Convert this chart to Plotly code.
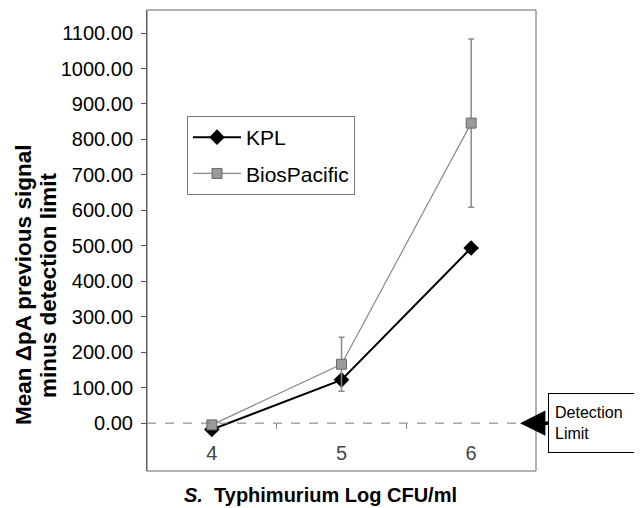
import plotly.graph_objects as go

# Data
x_cats = [4, 5, 6]
kpl = [-18, 122, 494]
bios = [-5, 166, 846]
bios_err = [6, 76, 237]
y_ticks = [-100, 0, 100, 200, 300, 400, 500, 600, 700, 800, 900, 1000, 1100]

FONT = "Liberation Sans, Arial, sans-serif"
OFF = 8  # page body margin offset

# plot area target (screen px)
PL, PR, PT, PB = 147, 536, 10, 471
PW, PH = PR - PL, PB - PT

fig = go.Figure()
fig.add_trace(go.Scatter(
    x=x_cats, y=kpl, name="KPL", mode="lines+markers", legendgroup="a",
    line=dict(color="black", width=2),
    marker=dict(symbol="diamond", size=12, color="black"),
))
fig.add_trace(go.Scatter(
    x=x_cats, y=bios, name="BiosPacific", mode="lines+markers", legendgroup="b",
    line=dict(color="#8a8a8a", width=1.2),
    marker=dict(symbol="square", size=10, color="#9a9a9a",
                line=dict(color="#6a6a6a", width=1)),
    error_y=dict(type="data", array=bios_err, visible=True,
                 color="#8a8a8a", thickness=1.5, width=3),
))

fig.update_layout(
    width=642, height=508,
    margin=dict(l=PL - OFF, r=642 - (PR - OFF), t=PT - OFF, b=508 - (PB - OFF)),
    paper_bgcolor="white", plot_bgcolor="white",
    font=dict(family=FONT, color="black", size=20),
    showlegend=True,
    legend=dict(x=(187 - PL) / PW, y=(PB - 116) / PH, xanchor="left", yanchor="top",
                bordercolor="#777", borderwidth=1, bgcolor="white",
                font=dict(size=21, family=FONT), tracegroupgap=6,
                itemwidth=48),
    xaxis=dict(range=[3.5, 6.5], tickvals=x_cats, ticktext=[str(v) for v in x_cats],
               ticks="", showgrid=False, zeroline=False, showline=False,
               ticklabelposition="inside", ticklabelstandoff=4,
               tickfont=dict(size=20)),
    xaxis2=dict(overlaying="x", anchor="free", position=135 / 1300,
                range=[3.5, 6.5], tickvals=[4.5, 5.5], ticks="outside",
                ticklen=5, tickcolor="#888", showticklabels=False,
                showgrid=False, zeroline=False, showline=False),
    yaxis=dict(range=[-135, 1165], tickvals=y_ticks, tickformat=".2f",
               ticks="outside", ticklen=5, tickcolor="#555",
               showgrid=False, zeroline=False, showline=True,
               linecolor="#555", linewidth=1, ticklabelstandoff=4,
               tickfont=dict(size=20)),
)

fig.add_trace(go.Scatter(x=[4.5], y=[0], xaxis="x2", mode="markers",
                         marker=dict(opacity=0), showlegend=False,
                         hoverinfo="skip"))

# plot border
fig.add_shape(type="rect", xref="paper", yref="paper", x0=0, x1=1, y0=0, y1=1,
              line=dict(color="#666", width=1))
# detection limit line at 0
fig.add_shape(type="line", xref="paper", yref="y", x0=0, x1=1, y0=0, y1=0,
              line=dict(color="#777", width=1, dash="dash"))

# Detection limit callout
fig.add_annotation(
    xref="paper", yref="y", x=(520 - PL) / PW, y=0,
    text="Detection<br>Limit", showarrow=True, arrowhead=2,
    arrowwidth=3.5, arrowsize=1.45, arrowcolor="black",
    ax=73, ay=0, axref="pixel", ayref="pixel",
    width=76, height=46, borderpad=6, align="left",
    bordercolor="black", borderwidth=1, bgcolor="white",
    font=dict(size=16, family=FONT),
)

# Axis titles (y title as two lines)
fig.add_annotation(
    xref="paper", yref="paper", x=(23 - PL) / PW, y=(PB - 285) / PH,
    text="<b>Mean ΔpA previous signal</b>",
    textangle=-90, showarrow=False, xanchor="center", yanchor="middle",
    font=dict(size=22.5, family=FONT),
)
fig.add_annotation(
    xref="paper", yref="paper", x=(48 - PL) / PW, y=(PB - 285) / PH,
    text="<b>minus detection limit</b>",
    textangle=-90, showarrow=False, xanchor="center", yanchor="middle",
    font=dict(size=22.5, family=FONT),
)
fig.add_annotation(
    xref="paper", yref="paper", x=(320 - PL) / PW, y=(PB - 495) / PH,
    text="<b><i>S.</i>  Typhimurium Log CFU/ml</b>",
    showarrow=False, xanchor="center", yanchor="middle",
    font=dict(size=20, family=FONT),
)

fig.write_html("out.html")
